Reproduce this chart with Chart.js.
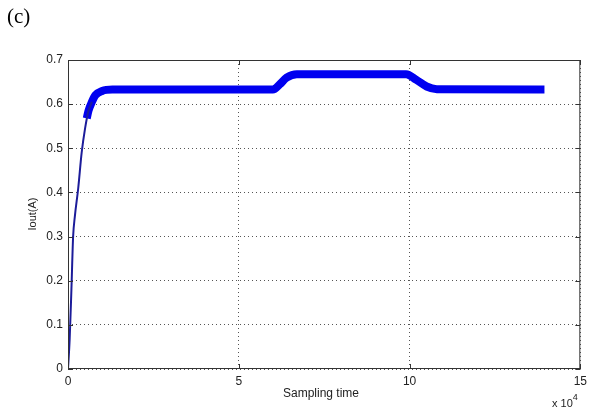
<!DOCTYPE html>
<html>
<head>
<meta charset="utf-8">
<script src="https://cdn.jsdelivr.net/npm/chart.js@4/dist/chart.umd.min.js"></script>
<style>
  html, body { margin: 0; padding: 0; background: #fff; }
  #wrap { position: relative; width: 592px; height: 408px; }
  #c { position: absolute; left: 0; top: 0; }
  .lbl { position: absolute; white-space: nowrap; color: #222; }
  #panel { left: 7px; top: 4px; font-family: "Liberation Serif", "DejaVu Serif", serif; font-size: 21px; color: #000; }
  #mult { left: 552px; top: 394px; font-family: "Liberation Sans", Arial, sans-serif; font-size: 11px; }
  #mult sup { font-size: 9px; position: relative; top: -2px; }
</style>
</head>
<body>
<div id="wrap">
  <canvas id="c" width="592" height="408"></canvas>
  <div class="lbl" id="panel">(c)</div>
  <div class="lbl" id="mult">x 10<sup>4</sup></div>
</div>
<script>
// Sampling time (raw) and Iout (A)
const riseTime = [0, 500, 1000, 1500, 2000, 3000, 4000, 5000, 6000, 7000];
const riseIout = [0, 0.07, 0.18, 0.30, 0.345, 0.41, 0.49, 0.545, 0.585, 0.605];
const plateauTime = [5500, 6000, 7000, 8000, 10000, 13000, 60000, 62000, 64000, 67000, 99000, 102000, 105000, 108000, 139500];
const plateauIout = [0.568, 0.585, 0.605, 0.62, 0.630, 0.633, 0.633, 0.645, 0.660, 0.668, 0.668, 0.655, 0.640, 0.634, 0.633];
const xTicks = [0, 50000, 100000, 150000];
const yTicks = [0, 0.1, 0.2, 0.3, 0.4, 0.5, 0.6, 0.7];
const xTitle = "Sampling time";
const yTitle = "Iout(A)";

const toPts = (xs, ys) => xs.map((x, i) => ({x: x, y: ys[i]}));

const framePlugin = {
  id: 'frame',
  afterDatasetsDraw(chart) {
    const {ctx, chartArea: a, scales: {x, y}} = chart;
    ctx.save();
    ctx.strokeStyle = '#333';
    ctx.lineWidth = 1;
    ctx.strokeRect(a.left + 0.5, a.top + 0.5, a.right - a.left - 1, a.bottom - a.top - 1);
    ctx.beginPath();
    const tl = 5;
    yTicks.forEach(v => {
      const py = Math.round(y.getPixelForValue(v)) + 0.5;
      ctx.moveTo(a.left, py); ctx.lineTo(a.left + tl, py);
      ctx.moveTo(a.right, py); ctx.lineTo(a.right - tl, py);
    });
    xTicks.forEach(v => {
      const px = Math.round(x.getPixelForValue(v)) + 0.5;
      ctx.moveTo(px, a.bottom); ctx.lineTo(px, a.bottom - tl);
      ctx.moveTo(px, a.top); ctx.lineTo(px, a.top + tl);
    });
    ctx.stroke();
    // axis titles
    ctx.fillStyle = '#222';
    ctx.font = '12px "Liberation Sans", Arial, sans-serif';
    ctx.textAlign = 'center';
    ctx.textBaseline = 'middle';
    ctx.fillText(xTitle, 321, 394);
    ctx.translate(33, 214);
    ctx.rotate(-Math.PI / 2);
    ctx.font = '11px "Liberation Sans", Arial, sans-serif';
    ctx.fillText(yTitle, 0, 0);
    ctx.restore();
  }
};

new Chart(document.getElementById('c'), {
  type: 'line',
  data: {
    datasets: [
      { data: toPts(riseTime, riseIout), borderColor: '#1c1c9a', borderWidth: 2, pointRadius: 0, cubicInterpolationMode: 'monotone' },
      { data: toPts(plateauTime, plateauIout), borderColor: '#0000f0', borderWidth: 8, pointRadius: 0, cubicInterpolationMode: 'monotone', borderCapStyle: 'butt', borderJoinStyle: 'round' }
    ]
  },
  options: {
    responsive: false,
    animation: false,
    devicePixelRatio: 1,
    layout: { padding: { left: 0, top: 60, right: 9, bottom: 0 } },
    plugins: { legend: { display: false }, tooltip: { enabled: false } },
    scales: {
      x: {
        type: 'linear', min: 0, max: 150000,
        afterFit(s) { s.height = 39; },
        afterBuildTicks(s) { s.ticks = xTicks.map(v => ({value: v})); },
        grid: { color: '#555', lineWidth: 1, tickLength: 0, drawTicks: false },
        border: { display: false, dash: [1, 3] },
        ticks: { color: '#222', font: { family: '"Liberation Sans", Arial, sans-serif', size: 12 }, padding: 5,
                 maxRotation: 0, callback: v => String(v / 10000) }
      },
      y: {
        type: 'linear', min: 0, max: 0.7,
        afterFit(s) { s.width = 68; },
        afterBuildTicks(s) { s.ticks = yTicks.map(v => ({value: v})); },
        grid: { color: '#555', lineWidth: 1, tickLength: 0, drawTicks: false },
        border: { display: false, dash: [1, 3] },
        ticks: { color: '#222', font: { family: '"Liberation Sans", Arial, sans-serif', size: 12 }, padding: 5,
                 callback: v => (v === 0 ? '0' : v.toFixed(1)) }
      }
    }
  },
  plugins: [framePlugin]
});
</script>
</body>
</html>
